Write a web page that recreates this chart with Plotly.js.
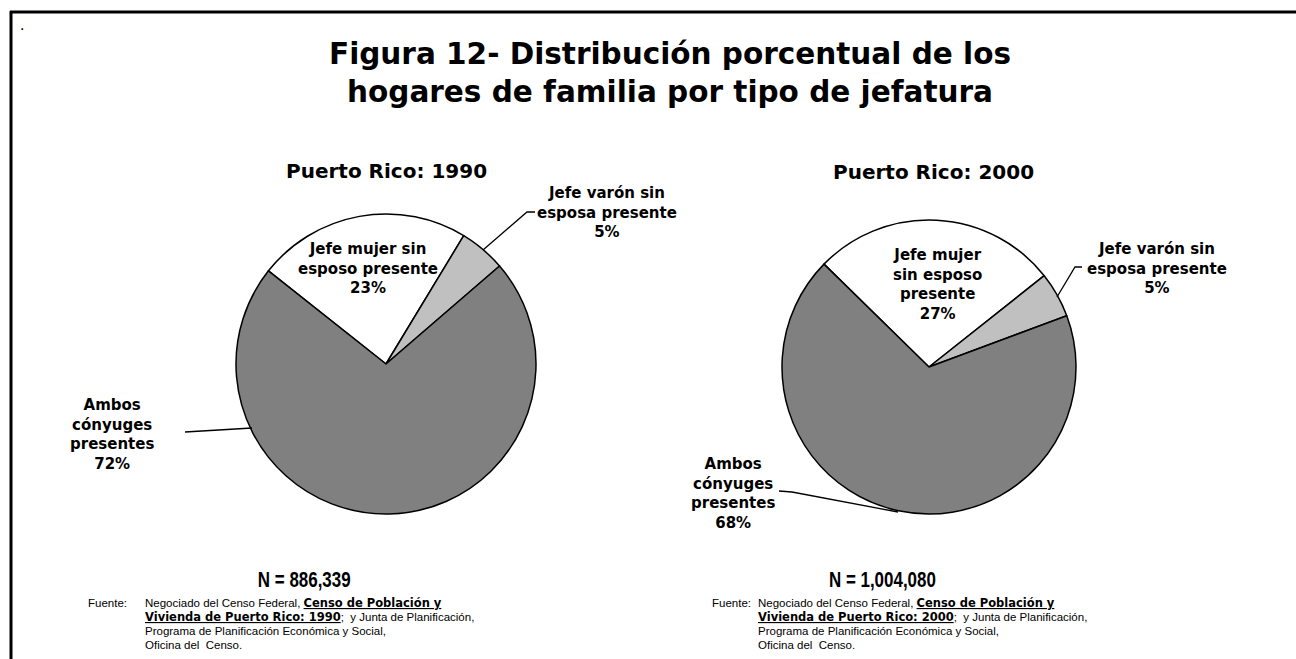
<!DOCTYPE html>
<html>
<head>
<meta charset="utf-8">
<script src="https://cdn.plot.ly/plotly-3.0.1.min.js"></script>
<style>html,body{margin:0;padding:0;background:#fff;}#chart{width:1296px;height:659px;}</style>
</head>
<body>
<div id="chart"></div>
<script>
// ---- data ----
const categories = ["Jefe mujer sin esposo presente", "Jefe varón sin esposa presente", "Ambos cónyuges presentes"];
const values1990 = [23, 5, 72];
const values2000 = [27, 5, 68];
const sliceColors = ["#ffffff", "#c0c0c0", "#808080"];
const labelLines1990 = [["Jefe mujer sin", "esposo presente"], ["Jefe varón sin", "esposa presente"], ["Ambos", "cónyuges", "presentes"]];
const labelLines2000 = [["Jefe mujer", "sin esposo", "presente"], ["Jefe varón sin", "esposa presente"], ["Ambos", "cónyuges", "presentes"]];
const subtitles = ["Puerto Rico: 1990", "Puerto Rico: 2000"];
const totals = ["N = 886,339", "N = 1,004,080"];
const years = ["1990", "2000"];
const mainTitle = "Figura 12- Distribución porcentual de los<br>hogares de familia por tipo de jefatura";

// ---- layout helpers ----
const W = 1296, H = 659;
const px = x => x / W;
const py = y => 1 - y / H;

const VERDANA = "DejaVu Sans, Verdana, sans-serif";
const ARIAL = "Liberation Sans, Arial, sans-serif";
const LABEL_FONT = {family: VERDANA, size: 15, color: "#000"};
const BOLD = s => "<b>" + s + "</b>";

function pieTrace(values, cx, cy, r, rotation) {
  return {
    type: "pie", values: values, labels: categories, sort: false, direction: "clockwise",
    rotation: rotation, textinfo: "none", hoverinfo: "none", showlegend: false,
    marker: {colors: sliceColors, line: {color: "#000", width: 1.5}},
    domain: {x: [px(cx - r), px(cx + r)], y: [py(cy + r), py(cy - r)]}
  };
}

const pies = [
  {values: values1990, lines: labelLines1990, cx: 386, cy: 364, r: 150, rot: -51.6,
   sub: [386, 171], n: [304, 579], src: [86, 143],
   lab: [[368, 268], [607, 213], [112, 434]]},
  {values: values2000, lines: labelLines2000, cx: 929, cy: 367, r: 147, rot: -45.6,
   sub: [933, 172], n: [882, 579], src: [710, 756],
   lab: [[937, 284], [1157, 268], [733, 494]]}
];

const data = pies.map(p => pieTrace(p.values, p.cx, p.cy, p.r, p.rot));

const annotations = [];
const compressList = [];
function ann(text, x, y, font, extra) {
  annotations.push(Object.assign({text: text, x: px(x), y: py(y), xref: "paper", yref: "paper",
    showarrow: false, font: font, xanchor: "center", yanchor: "middle", align: "center"}, extra || {}));
  return annotations.length - 1;
}

const bu = s => "<span style=\"font-family:'DejaVu Sans';font-weight:bold;text-decoration:underline\">" + s + "</span>";
const srcFont = {family: ARIAL, size: 11.5, color: "#000"};
const srcLineY = [603, 617, 631, 645];

pies.forEach((p, i) => {
  ann(BOLD(subtitles[i]), p.sub[0], p.sub[1], {family: VERDANA, size: 20, color: "#000"});
  p.lines.forEach((lines, k) => {
    const txt = lines.concat([p.values[k] + "%"]).map(BOLD).join("<br>");
    ann(txt, p.lab[k][0], p.lab[k][1], LABEL_FONT);
  });
  const ni = ann(BOLD(totals[i]), p.n[0], p.n[1], {family: ARIAL, size: 22, color: "#000"});
  compressList.push([ni, 0.77, "middle"]);
  ann("Fuente:", p.src[0], srcLineY[0], srcFont, {xanchor: "left"});
  const srcLines = [
    "Negociado del Censo Federal, " + bu("Censo de Población y"),
    bu("Vivienda de Puerto Rico: " + years[i]) + ";  y Junta de Planificación,",
    "Programa de Planificación Económica y Social,",
    "Oficina del  Censo."
  ];
  srcLines.forEach((t, k) => ann(t, p.src[1], srcLineY[k], srcFont, {xanchor: "left", align: "left"}));
});

ann(".", 22, 25, {family: ARIAL, size: 16, color: "#000"});

// leader lines and frame
const line = (pts) => ({type: "path", xref: "paper", yref: "paper",
  path: "M" + pts.map(q => px(q[0]) + "," + py(q[1])).join("L"), line: {color: "#000", width: 1.3}});
const shapes = [
  line([[535, 212], [527, 212], [483, 250]]),
  line([[185, 432], [252, 428]]),
  line([[1082, 267], [1075, 267], [1057, 297]]),
  line([[779, 491], [792, 492], [898, 512]]),
  {type: "line", xref: "paper", yref: "paper", x0: px(11), x1: px(11), y0: py(11), y1: 0, line: {color: "#000", width: 3}},
  {type: "line", xref: "paper", yref: "paper", x0: px(10), x1: 1, y0: py(12), y1: py(12), line: {color: "#000", width: 3}}
];

const layout = {
  width: W, height: H, margin: {l: 0, r: 0, t: 0, b: 0},
  paper_bgcolor: "#fff", plot_bgcolor: "#fff",
  title: {text: "<b>" + mainTitle + "</b>", x: px(670), xanchor: "center", y: 1 - 64 / H, yanchor: "middle",
    font: {family: VERDANA, size: 29.5, color: "#000"}},
  annotations: annotations, shapes: shapes
};

Plotly.newPlot("chart", data, layout, {displayModeBar: false, staticPlot: true}).then(gd => {
  // narrow-font look for the N totals: squeeze horizontally
  const groups = gd.querySelectorAll(".annotation");
  compressList.forEach(([idx, sx, anchor]) => {
    const g = groups[idx];
    if (!g) return;
    const t = g.querySelector("text");
    if (!t) return;
    const bb = t.getBBox();
    const cx = anchor === "start" ? bb.x : bb.x + bb.width / 2;
    t.setAttribute("transform", "translate(" + cx + ",0) scale(" + sx + ",1) translate(" + (-cx) + ",0)");
  });
});
</script>
</body>
</html>
